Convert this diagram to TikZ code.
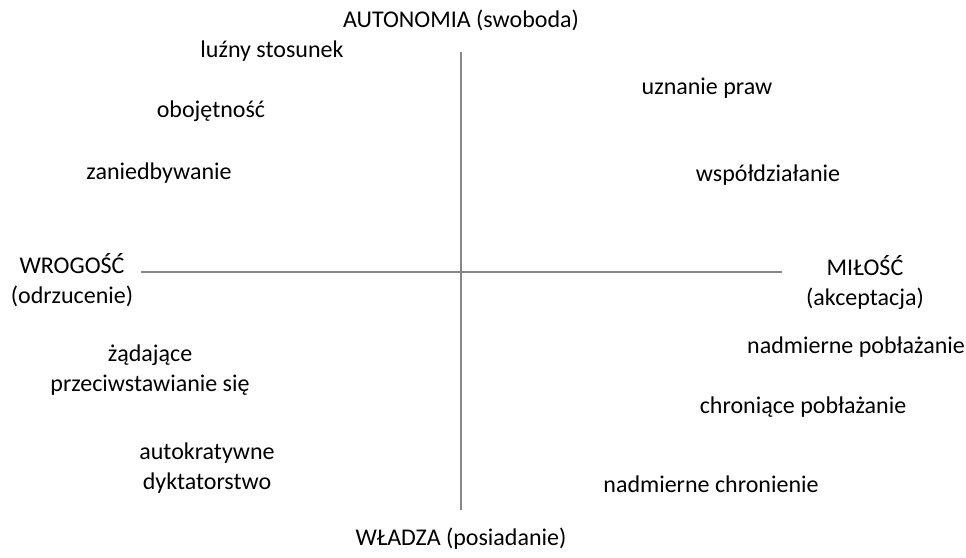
\documentclass[tikz,border=0pt]{standalone}
\usepackage{fontspec}
\setmainfont{Carlito}
\begin{document}
\begin{tikzpicture}[x=0.75pt,y=-0.75pt,
  lbl/.style={align=center,inner sep=0pt,font=\fontsize{18}{22.5}\selectfont,text=black},
  axis/.style={draw=black!47,line width=2pt}]
\useasboundingbox (0,0) rectangle (966,557);
\coordinate (top) at (461,52);
\coordinate (bot) at (461,510);
\coordinate (lft) at (141,272);
\coordinate (rgt) at (782,272);
\draw[axis] (top) -- (bot);
\draw[axis] (lft) -- (rgt);
\node[lbl] (n) at (461,20) {AUTONOMIA (swoboda)};
\node[lbl] (s) at (461,539) {WŁADZA (posiadanie)};
\node[lbl] (w) at (72,280) {WROGOŚĆ\\(odrzucenie)};
\node[lbl] (e) at (865,283) {MIŁOŚĆ\\(akceptacja)};
\node[lbl] (a1) at (272,51) {luźny stosunek};
\node[lbl] (a2) at (211,111) {obojętność};
\node[lbl] (a3) at (159,173) {zaniedbywanie};
\node[lbl] (b1) at (707,88) {uznanie praw};
\node[lbl] (b2) at (768,175) {współdziałanie};
\node[lbl] (c1) at (150,370) {żądające\\przeciwstawianie się};
\node[lbl] (c2) at (207,468) {autokratywne\\dyktatorstwo};
\node[lbl] (d1) at (856,347) {nadmierne pobłażanie};
\node[lbl] (d2) at (803,407) {chroniące pobłażanie};
\node[lbl] (d3) at (711,484) {nadmierne chronienie};
\end{tikzpicture}
\end{document}
